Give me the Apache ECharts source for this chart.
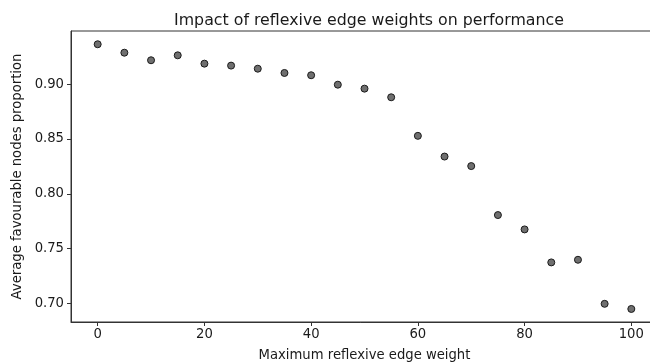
<!DOCTYPE html>
<html>
<head>
<meta charset="utf-8">
<script src="https://cdn.jsdelivr.net/npm/echarts@6/dist/echarts.min.js"></script>
<style>
  html, body { margin: 0; padding: 0; background: #fff; }
  #chart { width: 650px; height: 364px; }
</style>
</head>
<body>
<div id="chart"></div>
<script>
// 最大自反边权重
const weights = [0, 5, 10, 15, 20, 25, 30, 35, 40, 45, 50, 55, 60, 65, 70, 75, 80, 85, 90, 95, 100]
// 平均有利节点比例
const proportions = [
    0.9365, 0.9288, 0.9219, 0.9264, 0.9188, 0.9170, 0.9142, 0.9103, 0.9082, 0.8996, 0.8960,
    0.8881, 0.8529, 0.8340, 0.8253, 0.7806, 0.7675, 0.7374, 0.7398, 0.6996, 0.6949
]
const xTicks = [0, 20, 40, 60, 80, 100]
const yTicks = [0.70, 0.75, 0.80, 0.85, 0.90]

const FONT = 'DejaVu Sans'
const AXIS_COLOR = '#333'
const TEXT_COLOR = '#1a1a1a'

const chart = echarts.init(document.getElementById('chart'), null, { renderer: 'canvas' })

chart.setOption({
    animation: false,
    title: {
        text: 'Impact of reflexive edge weights on performance',
        left: 364,
        top: 8,
        textAlign: 'center',
        textStyle: { fontFamily: FONT, fontSize: 15.8, fontWeight: 'normal', color: TEXT_COLOR }
    },
    grid: {
        left: 71,
        top: 31,
        width: 587, // 右边框超出画布，与原图一致
        height: 291,
        outerBoundsMode: 'none',
        containLabel: false,
        show: true,
        borderColor: AXIS_COLOR,
        borderWidth: 1
    },
    xAxis: {
        type: 'value',
        min: -5,
        max: 105,
        name: 'Maximum reflexive edge weight',
        nameLocation: 'middle',
        nameGap: 27,
        nameTextStyle: { fontFamily: FONT, fontSize: 13.2, color: TEXT_COLOR },
        axisLine: { onZero: false, lineStyle: { color: AXIS_COLOR, width: 1 } },
        axisTick: { customValues: xTicks, length: 4, lineStyle: { color: AXIS_COLOR } },
        axisLabel: {
            customValues: xTicks,
            margin: 6,
            fontFamily: FONT,
            fontSize: 13.2,
            color: TEXT_COLOR
        },
        splitLine: { show: false }
    },
    yAxis: {
        type: 'value',
        min: 0.683,
        max: 0.9486,
        name: 'Average favourable nodes proportion',
        nameLocation: 'middle',
        nameGap: 46,
        nameTextStyle: { fontFamily: FONT, fontSize: 13.2, color: TEXT_COLOR },
        axisLine: { show: true, onZero: false, lineStyle: { color: AXIS_COLOR, width: 1 } },
        axisTick: { show: true, customValues: yTicks, length: 4, lineStyle: { color: AXIS_COLOR } },
        axisLabel: {
            customValues: yTicks,
            margin: 7,
            fontFamily: FONT,
            fontSize: 13.2,
            color: TEXT_COLOR,
            formatter: v => v.toFixed(2)
        },
        splitLine: { show: false }
    },
    series: [{
        type: 'scatter',
        data: weights.map((w, i) => [w, proportions[i]]),
        symbol: 'circle',
        symbolSize: 7,
        itemStyle: {
            color: '#6f6f6f',
            borderColor: '#1a1a1a',
            borderWidth: 1,
            opacity: 1
        }
    }]
})
</script>
</body>
</html>
